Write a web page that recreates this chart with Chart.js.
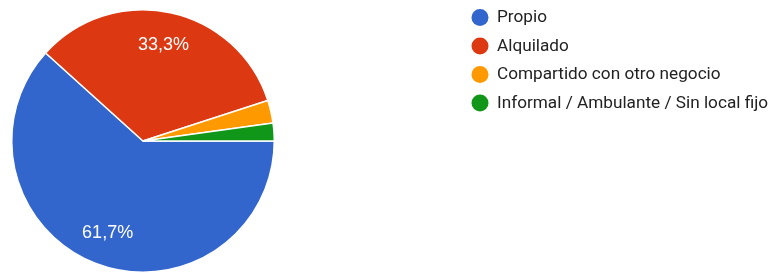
<!DOCTYPE html>
<html>
<head>
<meta charset="utf-8">
<script src="https://cdn.jsdelivr.net/npm/chart.js@4/dist/chart.umd.min.js"></script>
<style>
html,body{margin:0;padding:0;background:#fff;}
#wrap{position:relative;width:773px;height:273px;}
</style>
</head>
<body>
<div id="wrap"><canvas id="c" width="773" height="273"></canvas></div>
<script>
const categories = ['Propio', 'Alquilado', 'Compartido con otro negocio', 'Informal / Ambulante / Sin local fijo'];
const values = [61.7, 33.3, 2.8, 2.2];
const colors = ['#3366cc', '#dc3912', '#ff9900', '#109618'];

const sliceLabels = {
  id: 'sliceLabels',
  afterDatasetsDraw(chart) {
    const ctx = chart.ctx;
    const meta = chart.getDatasetMeta(0);
    const data = chart.data.datasets[0].data;
    const total = data.reduce((a, b) => a + b, 0);
    ctx.save();
    ctx.fillStyle = '#ffffff';
    ctx.font = '18px "Liberation Sans", Arial, sans-serif';
    ctx.textAlign = 'center';
    ctx.textBaseline = 'middle';
    meta.data.forEach((arc, i) => {
      const pct = data[i] / total * 100;
      if (pct < 5) return;
      const p = arc.getProps(['x', 'y', 'startAngle', 'endAngle', 'outerRadius'], true);
      const mid = (p.startAngle + p.endAngle) / 2;
      const r = p.outerRadius * 0.75;
      ctx.fillText(pct.toFixed(1).replace('.', ',') + '%', p.x + Math.cos(mid) * r, p.y + Math.sin(mid) * r);
    });
    ctx.restore();
  }
};

const sideLegend = {
  id: 'sideLegend',
  afterDraw(chart) {
    const ctx = chart.ctx;
    const labels = chart.data.labels;
    const bg = chart.data.datasets[0].backgroundColor;
    ctx.save();
    ctx.font = '17.2px Roboto, "Liberation Sans", sans-serif';
    ctx.textBaseline = 'middle';
    ctx.textAlign = 'left';
    labels.forEach((lab, i) => {
      const cy = 17.5 + i * 28.5;
      ctx.beginPath();
      ctx.arc(480, cy, 8.5, 0, Math.PI * 2);
      ctx.fillStyle = bg[i];
      ctx.fill();
      ctx.fillStyle = '#222222';
      ctx.fillText(lab, 497, cy + 0.5);
    });
    ctx.restore();
  }
};

new Chart(document.getElementById('c'), {
  type: 'pie',
  data: {
    labels: categories,
    datasets: [{
      data: values,
      backgroundColor: colors,
      borderColor: '#ffffff',
      borderWidth: 1.5
    }]
  },
  options: {
    responsive: false,
    animation: false,
    rotation: 90,
    layout: { padding: { left: 0, top: 9, right: 487, bottom: -3 } },
    plugins: {
      legend: { display: false },
      tooltip: { enabled: false }
    }
  },
  plugins: [sliceLabels, sideLegend]
});
</script>
</body>
</html>
